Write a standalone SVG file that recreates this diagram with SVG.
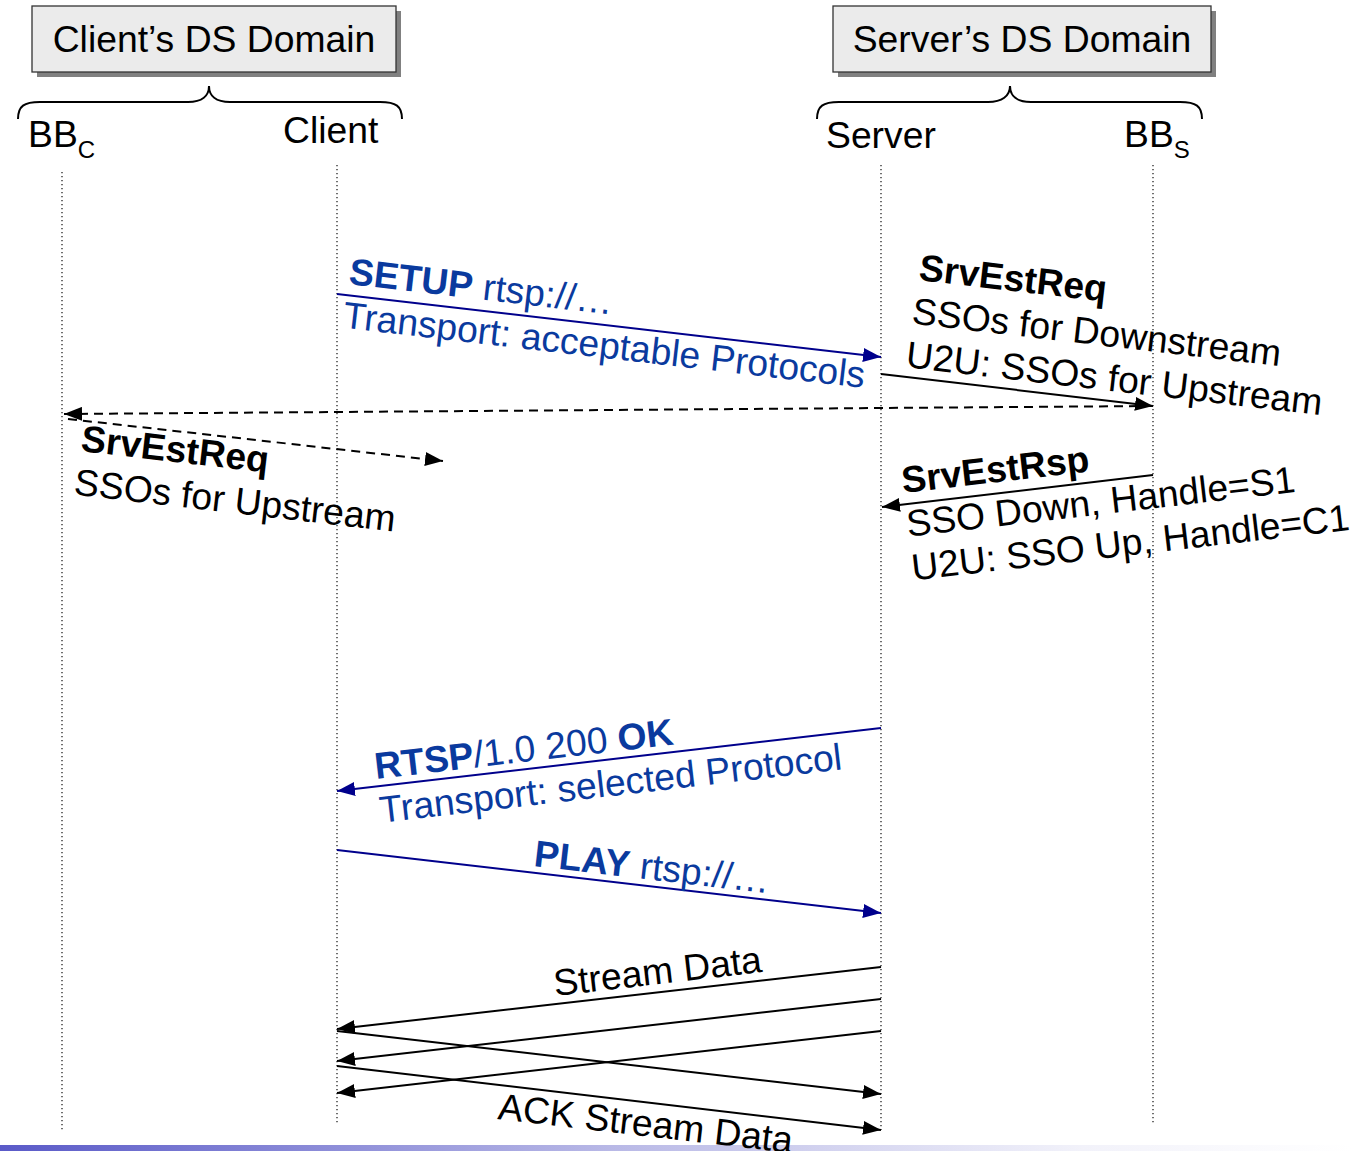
<svg xmlns="http://www.w3.org/2000/svg" width="1352" height="1151" viewBox="0 0 1352 1151">
<style>
.t{font-family:"Liberation Sans",Arial,sans-serif;font-size:37.3px;fill:#000}
.b{font-weight:bold}
.blue{fill:#0a3a9e}
.life{stroke:#222;stroke-width:1.3;stroke-dasharray:1.3 2.7;fill:none}
.msg{stroke:#000;stroke-width:2;fill:none;marker-end:url(#ah)}
.bmsg{stroke:#00008c;stroke-width:2;fill:none;marker-end:url(#ahb)}
.dash{stroke:#000;stroke-width:2;fill:none;stroke-dasharray:9 6;marker-end:url(#ah)}
.box{fill:#ebebeb;stroke:#333;stroke-width:1.3}
.shadow{fill:#808080}
.brace{fill:none;stroke:#000;stroke-width:2}
</style>
<defs>
<marker id="ah" markerUnits="userSpaceOnUse" markerWidth="20" markerHeight="14" refX="18" refY="7" orient="auto">
<path d="M0,0 L18,7 L0,14 Z" fill="#000"/>
</marker>
<marker id="ahb" markerUnits="userSpaceOnUse" markerWidth="20" markerHeight="14" refX="18" refY="7" orient="auto">
<path d="M0,0 L18,7 L0,14 Z" fill="#00008c"/>
</marker>
<linearGradient id="bar" x1="0" y1="0" x2="1" y2="0">
<stop offset="0" stop-color="#5a5ac8"/>
<stop offset="0.45" stop-color="#b8b8e6"/>
<stop offset="0.8" stop-color="#f2f2fa"/>
<stop offset="1" stop-color="#ffffff"/>
</linearGradient>
</defs>
<rect width="1352" height="1151" fill="#fff"/>
<rect x="0" y="1145" width="1352" height="6" fill="url(#bar)"/>

<g id="client-domain">
<rect class="shadow" x="37" y="11" width="364" height="66"/>
<rect class="box" x="32" y="6" width="364" height="66"/>
<text class="t" x="214" y="52" text-anchor="middle">Client’s DS Domain</text>
<path class="brace" d="M18,119 C18,106 24,102 40,102 L188,102 C202,102 209,96 209,86 C209,96 216,102 230,102 L380,102 C396,102 402,106 402,119"/>
</g>
<g id="server-domain">
<rect class="shadow" x="838" y="11" width="378" height="66"/>
<rect class="box" x="833" y="6" width="378" height="66"/>
<text class="t" x="1022" y="52" text-anchor="middle">Server’s DS Domain</text>
<path class="brace" d="M817,119 C817,106 823,102 839,102 L988,102 C1002,102 1010,96 1010,86 C1010,96 1017,102 1031,102 L1180,102 C1196,102 1202,106 1202,119"/>
</g>

<g id="bbc">
<text class="t" x="28" y="147">BB<tspan font-size="24" dy="11">C</tspan></text>
<line class="life" x1="62" y1="172" x2="62" y2="1130"/>
</g>
<g id="client">
<text class="t" x="283" y="143">Client</text>
<line class="life" x1="337" y1="165" x2="337" y2="1125"/>
</g>
<g id="server">
<text class="t" x="826" y="148">Server</text>
<line class="life" x1="881" y1="165" x2="881" y2="1130"/>
</g>
<g id="bbs">
<text class="t" x="1124" y="147">BB<tspan font-size="24" dy="11">S</tspan></text>
<line class="life" x1="1153" y1="165" x2="1153" y2="1125"/>
</g>

<g id="connectors">
<line class="bmsg" x1="337" y1="294" x2="881" y2="357"/>
<line class="msg" x1="881" y1="374" x2="1153" y2="406"/>
<line class="dash" x1="1153" y1="406" x2="64" y2="414"/>
<line class="dash" x1="68" y1="419" x2="443" y2="461"/>
<line class="msg" x1="1153" y1="475" x2="882" y2="507"/>
<line class="bmsg" x1="881" y1="728" x2="337" y2="791"/>
<line class="bmsg" x1="337" y1="850" x2="881" y2="913"/>
<line class="msg" x1="881" y1="967" x2="337" y2="1029"/>
<line class="msg" x1="881" y1="999" x2="337" y2="1061"/>
<line class="msg" x1="881" y1="1031" x2="337" y2="1093"/>
<line class="msg" x1="337" y1="1031" x2="881" y2="1094"/>
<line class="msg" x1="337" y1="1066" x2="881" y2="1130"/>
</g>

<g id="labels">
<text class="t blue" transform="translate(348,284) rotate(6.6)"><tspan class="b">SETUP</tspan> rtsp://…<tspan x="-1" dy="44">Transport: acceptable Protocols</tspan></text>
<text class="t" transform="translate(918,280) rotate(6.6)"><tspan class="b">SrvEstReq</tspan><tspan x="-2" dy="44">SSOs for Downstream</tspan><tspan x="-3" dy="44">U2U: SSOs for Upstream</tspan></text>
<text class="t" transform="translate(80,451) rotate(6.6)"><tspan class="b">SrvEstReq</tspan><tspan x="-2" dy="44">SSOs for Upstream</tspan></text>
<text class="t" transform="translate(903,493) rotate(-6.6)"><tspan class="b">SrvEstRsp</tspan><tspan x="0" dy="44">SSO Down, Handle=S1</tspan><tspan x="0" dy="44">U2U: SSO Up, Handle=C1</tspan></text>
<text class="t blue" transform="translate(376,779) rotate(-6.6)"><tspan class="b">RTSP</tspan>/1.0 200 <tspan class="b">OK</tspan><tspan x="0" dy="44">Transport: selected Protocol</tspan></text>
<text class="t blue" transform="translate(533,866) rotate(6.6)"><tspan class="b">PLAY</tspan> rtsp://…</text>
<text class="t" transform="translate(555,996) rotate(-6.6)">Stream Data</text>
<text class="t" transform="translate(497,1119) rotate(6.6)">ACK Stream Data</text>
</g>
</svg>
